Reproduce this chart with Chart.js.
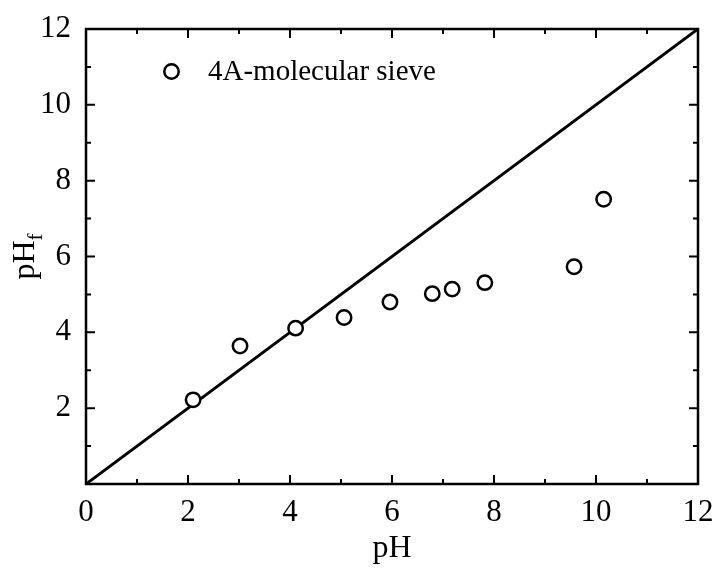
<!DOCTYPE html>
<html>
<head>
<meta charset="utf-8">
<script src="https://cdn.jsdelivr.net/npm/chart.js@4.4.1/dist/chart.umd.min.js"></script>
<style>
  html, body { margin: 0; padding: 0; background: #fff; }
  #wrap { width: 717px; height: 568px; }
</style>
</head>
<body>
<div id="wrap"><canvas id="c"></canvas></div>
<script>
  const pHValues = [2.10, 3.02, 4.11, 5.06, 5.96, 6.79, 7.18, 7.82, 9.57, 10.15];
  const pHfValues = [2.22, 3.64, 4.11, 4.39, 4.80, 5.02, 5.14, 5.31, 5.73, 7.51];
  const diagonalX = [0, 12];
  const diagonalY = [0, 12];
  const tickValues = [0, 2, 4, 6, 8, 10, 12];
  const legendLabel = "4A-molecular sieve";

  const FONT = "'Liberation Serif', 'Times New Roman', serif";

  // frame, inward ticks, legend and axis titles
  const framePlugin = {
    id: "frame",
    afterDraw(chart) {
      const ctx = chart.ctx;
      const a = chart.chartArea;
      const xs = chart.scales.x;
      const ys = chart.scales.y;
      ctx.save();
      ctx.strokeStyle = "#000";
      ctx.lineWidth = 2.5;
      ctx.strokeRect(a.left, a.top, a.right - a.left, a.bottom - a.top);

      ctx.lineWidth = 2;
      for (let v = 0; v <= 12; v += 1) {
        const len = v % 2 === 0 ? 9 : 5;
        const px = xs.getPixelForValue(v);
        const py = ys.getPixelForValue(v);
        ctx.beginPath();
        ctx.moveTo(px, a.bottom); ctx.lineTo(px, a.bottom - len);
        ctx.moveTo(px, a.top); ctx.lineTo(px, a.top + len);
        ctx.moveTo(a.left, py); ctx.lineTo(a.left + len, py);
        ctx.moveTo(a.right, py); ctx.lineTo(a.right - len, py);
        ctx.stroke();
      }

      // legend
      ctx.lineWidth = 2.5;
      ctx.fillStyle = "#fff";
      ctx.beginPath();
      ctx.arc(171.5, 71.5, 7.2, 0, Math.PI * 2);
      ctx.fill();
      ctx.stroke();
      ctx.fillStyle = "#000";
      ctx.font = "29px " + FONT;
      ctx.textBaseline = "alphabetic";
      ctx.textAlign = "left";
      ctx.fillText(legendLabel, 208, 80);

      // x title
      ctx.font = "32px " + FONT;
      ctx.textAlign = "center";
      ctx.fillText("pH", (a.left + a.right) / 2, 557);

      // y title with subscript
      ctx.translate(34, (a.top + a.bottom) / 2);
      ctx.rotate(-Math.PI / 2);
      ctx.textAlign = "left";
      const w1 = ctx.measureText("pH").width;
      ctx.font = "21px " + FONT;
      const w2 = ctx.measureText("f").width;
      const start = -(w1 + w2) / 2;
      ctx.font = "32px " + FONT;
      ctx.fillText("pH", start, 0);
      ctx.font = "21px " + FONT;
      ctx.fillText("f", start + w1, 8);
      ctx.restore();
    }
  };

  new Chart(document.getElementById("c"), {
    type: "scatter",
    data: {
      datasets: [
        {
          label: "y=x",
          data: diagonalX.map((x, i) => ({ x, y: diagonalY[i] })),
          showLine: true,
          borderColor: "#000",
          borderWidth: 3,
          pointRadius: 0,
          order: 2
        },
        {
          label: legendLabel,
          data: pHValues.map((x, i) => ({ x, y: pHfValues[i] })),
          showLine: false,
          pointRadius: 7.2,
          pointBorderWidth: 2.5,
          pointBorderColor: "#000",
          pointBackgroundColor: "#fff",
          order: 1
        }
      ]
    },
    options: {
      responsive: true,
      maintainAspectRatio: false,
      animation: false,
      layout: { padding: { top: 29, right: 19, left: 0, bottom: 0 } },
      plugins: { legend: { display: false }, tooltip: { enabled: false } },
      scales: {
        x: {
          type: "linear",
          min: 0, max: 12,
          afterBuildTicks(s) { s.ticks = tickValues.map(v => ({ value: v })); },
          afterFit(s) { s.height = 84; },
          grid: { display: false },
          border: { display: false },
          ticks: { color: "#000", font: { family: FONT, size: 31 }, padding: 2, maxRotation: 0 }
        },
        y: {
          type: "linear",
          min: 0, max: 12,
          afterBuildTicks(s) { s.ticks = tickValues.slice(1).map(v => ({ value: v })); },
          afterFit(s) { s.width = 86; },
          grid: { display: false },
          border: { display: false },
          ticks: { color: "#000", font: { family: FONT, size: 31 }, padding: 7 }
        }
      }
    },
    plugins: [framePlugin]
  });
</script>
</body>
</html>
